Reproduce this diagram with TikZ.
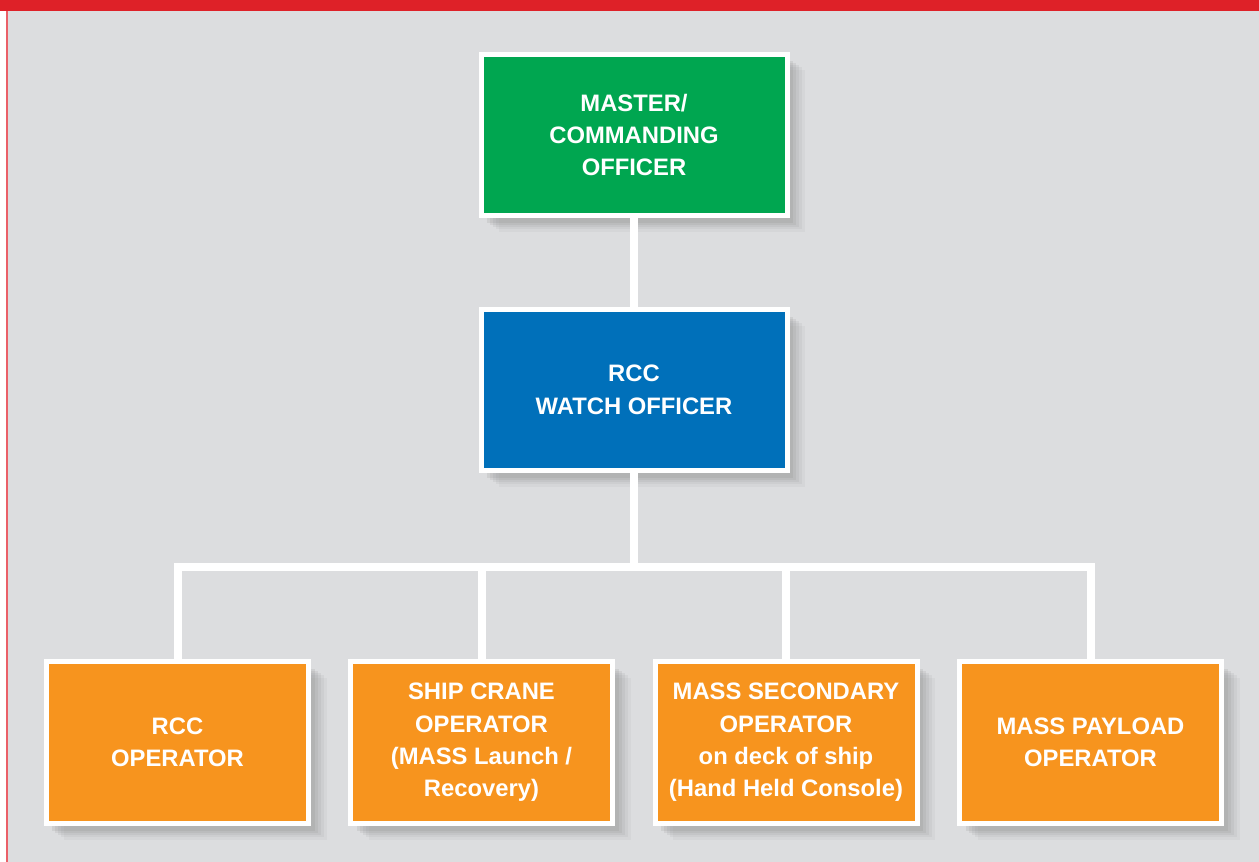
\documentclass[tikz,border=0pt]{standalone}
\usepackage{fontspec}
\setmainfont{Liberation Sans}
\usetikzlibrary{shadows}

\definecolor{bggray}{HTML}{DCDDDF}
\definecolor{barred}{HTML}{DE2128}
\definecolor{edgered}{HTML}{EA6068}
\definecolor{mastergreen}{HTML}{00A650}
\definecolor{watchblue}{HTML}{0070BA}
\definecolor{oporange}{HTML}{F7941E}

\begin{document}
\begin{tikzpicture}[x=1bp,y=-1bp]
		\tikzstyle{unit}=[rectangle,draw=white,line width=5bp,text=white,align=center,inner sep=0pt,
			font=\fontsize{23.8bp}{32.4bp}\selectfont\bfseries,
			drop shadow={shadow xshift=18bp,shadow yshift=-16bp,opacity=.07},
			drop shadow={shadow xshift=15bp,shadow yshift=-13bp,opacity=.09},
			drop shadow={shadow xshift=12bp,shadow yshift=-11bp,opacity=.11},
			drop shadow={shadow xshift=9bp,shadow yshift=-9bp,opacity=.13},
			drop shadow={shadow xshift=6bp,shadow yshift=-7bp,opacity=.15}]
		\tikzstyle{chief}=[unit,minimum width=306bp,minimum height=161bp]
		\tikzstyle{crew}=[unit,fill=oporange,minimum width=262bp,minimum height=162bp]
		\tikzstyle{link}=[white,line width=8bp]
		
		% frame
		\useasboundingbox (0,0) rectangle (1259,862);
		\fill[white] (0,0) rectangle (1259,862);
		\fill[bggray] (6,0) rectangle (1259,862);
		\fill[edgered] (6,11) rectangle (8,862);
		\fill[barred] (0,0) rectangle (1259,11);
		
		\node[chief,fill=mastergreen] (master) at (634,135) {MASTER/\\COMMANDING\\OFFICER};
		\node[chief,fill=watchblue] (watch) at (634,390) {RCC\\WATCH OFFICER};
		
		\node[crew] (rccop) at (177.5,742.5) {RCC\\OPERATOR};
		\node[crew] (crane) at (481.5,742.5) {SHIP CRANE\\OPERATOR\\(MASS Launch /\\Recovery)};
		\node[crew] (second) at (786,742.5) {MASS SECONDARY\\OPERATOR\\on deck of ship\\(Hand Held Console)};
		\node[crew] (payload) at (1090.5,742.5) {MASS PAYLOAD\\OPERATOR};
		
		\coordinate (bus) at (634,567);
		
		\draw[link] (master.south) -- (watch.north);
		\draw[link] (watch.south) -- (bus);
		\draw[link] (rccop.north) -- (rccop.north |- bus) -- (payload.north |- bus) -- (payload.north);
		\draw[link] (crane.north |- bus) -- (crane.north);
		\draw[link] (second.north |- bus) -- (second.north);
		\end{tikzpicture}
\end{document}
